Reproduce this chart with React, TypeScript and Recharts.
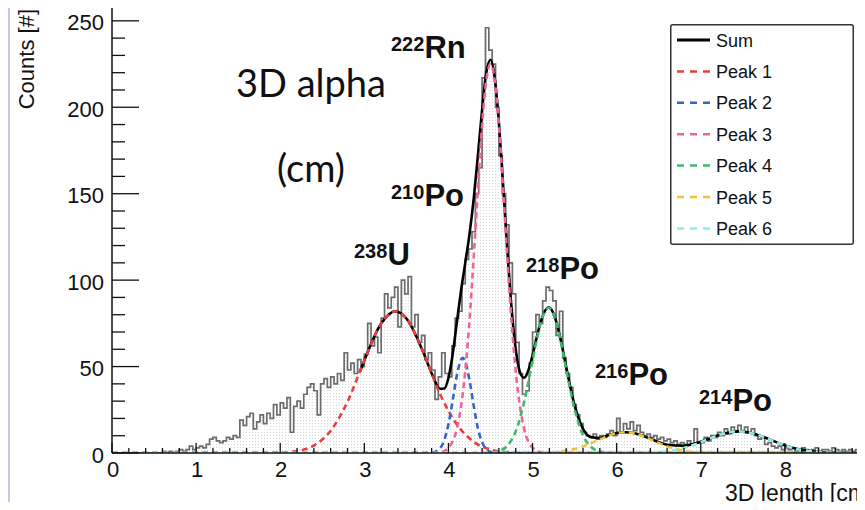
import React from "react";
import {
    ComposedChart,
    Area,
    Line,
    XAxis,
    YAxis,
    ReferenceLine,
    Legend,
} from "recharts";

// 3D track length histogram, 0.04 cm bins from 0 to 9 cm
const BIN_WIDTH = 0.04;
const HIST_COUNTS = [
    // 0.00 - 0.96
    0, 0, 0, 0, 0, 0, 0, 0, 0, 0, 0, 0, 0, 0, 0, 1, 0, 1, 0, 1, 2, 1, 2, 4, 2,
    // 1.00 - 1.96
    3, 4, 3, 5, 8, 9, 7, 6, 7, 9, 8, 10, 9, 19, 16, 21, 23, 14, 18, 22, 17, 23, 20, 28, 22,
    // 2.00 - 2.96
    29, 26, 32, 12, 27, 30, 26, 34, 38, 40, 36, 22, 40, 43, 38, 44, 40, 46, 42, 58, 48, 52, 46, 54, 50,
    // 3.00 - 3.96
    57, 75, 62, 67, 58, 78, 92, 84, 90, 96, 73, 100, 92, 102, 73, 80, 64, 68, 54, 58, 48, 31, 44, 58, 46,
    // 4.00 - 4.96
    44, 62, 78, 82, 98, 112, 118, 128, 150, 165, 217, 246, 233, 225, 200, 172, 150, 132, 110, 92, 64, 46, 34, 36, 52,
    // 5.00 - 5.96
    70, 80, 75, 88, 96, 94, 88, 68, 82, 55, 46, 38, 28, 22, 17, 12, 10, 9, 11, 8, 10, 9, 11, 13, 10,
    // 6.00 - 6.96
    20, 12, 17, 14, 18, 13, 16, 12, 10, 11, 9, 10, 8, 9, 7, 8, 6, 7, 5, 6, 5, 7, 5, 14, 6,
    // 7.00 - 7.96
    6, 9, 7, 10, 9, 12, 10, 14, 11, 15, 12, 16, 13, 15, 12, 14, 10, 8, 9, 5, 6, 4, 3, 4, 2,
    // 8.00 - 8.96
    3, 2, 3, 1, 2, 3, 2, 1, 2, 3, 1, 2, 2, 1, 3, 2, 1, 2, 1, 2, 1, 2, 1, 2, 1,
];

// fit components, [length (cm), counts]
const SUM_FIT: [number, number][] = [
    [2.95, 47.3], [3.0, 53.5], [3.2, 74.9], [3.37, 82], [3.5, 77.8], [3.7, 58.4], [3.8, 46.2],
    [3.9, 37.2], [3.95, 37.3], [4.0, 43.4], [4.05, 57], [4.1, 75.6], [4.15, 94], [4.2, 110],
    [4.25, 126.5], [4.3, 146.8], [4.35, 172], [4.4, 198.5], [4.45, 220], [4.5, 227.5],
    [4.55, 217], [4.6, 191], [4.65, 155], [4.7, 117.4], [4.75, 84], [4.8, 59.9], [4.85, 46.8],
    [4.9, 43.5], [4.95, 47.7], [5.0, 56.5], [5.05, 67], [5.1, 76.3], [5.19, 84.3], [5.25, 80.6],
    [5.3, 72.7], [5.35, 62], [5.4, 49.7], [5.5, 27.6], [5.6, 14], [5.7, 9.1], [5.8, 8.7],
    [5.9, 10.2], [6.0, 11.5], [6.1, 12], [6.2, 11.6], [6.4, 8.2], [6.6, 4.8], [6.8, 4.2],
    [7.0, 6.5], [7.2, 10.1], [7.45, 12.5], [7.6, 11.6], [7.8, 8.2], [8.0, 4.4], [8.2, 1.8],
    [8.4, 0.6], [8.6, 0.1], [9.0, 0],
];
const PEAK_1: [number, number][] = [
    [0, 0], [2.0, 0.2], [2.2, 1.1], [2.4, 4.3], [2.6, 12.9], [2.8, 29.7], [3.0, 53.5], [3.2, 74.9],
    [3.37, 82], [3.5, 77.8], [3.7, 58.4], [3.9, 34.1], [4.1, 16.5], [4.3, 6.5], [4.5, 2.0],
    [4.7, 0.5], [5.0, 0], [9.0, 0],
];
const PEAK_2: [number, number][] = [
    [0, 0], [3.7, 0], [3.8, 0.2], [3.9, 2.7], [4.0, 16.7], [4.05, 30.3], [4.1, 45], [4.17, 55],
    [4.25, 42.2], [4.3, 27.4], [4.35, 14.4], [4.4, 6.2], [4.5, 0.6], [4.6, 0], [9.0, 0],
];
const PEAK_3: [number, number][] = [
    [0, 0], [3.8, 0], [3.9, 0.4], [4.0, 3], [4.1, 14.1], [4.15, 27], [4.2, 47.4], [4.25, 76.3],
    [4.3, 112.9], [4.35, 152.5], [4.4, 189.3], [4.45, 215.5], [4.5, 225], [4.55, 215.5],
    [4.6, 189.3], [4.65, 152.5], [4.7, 112.9], [4.75, 76.3], [4.8, 47.4], [4.85, 27],
    [4.9, 14.1], [5.0, 3], [5.1, 0.4], [5.2, 0], [9.0, 0],
];
const PEAK_4: [number, number][] = [
    [0, 0], [4.5, 0], [4.6, 1.1], [4.7, 4.2], [4.8, 12.5], [4.9, 29.4], [5.0, 53.5], [5.05, 65.7],
    [5.1, 75.9], [5.19, 84], [5.25, 80.3], [5.3, 72.2], [5.35, 61], [5.4, 48.4], [5.5, 25.3],
    [5.6, 10.2], [5.7, 3.3], [5.8, 0.8], [5.9, 0.2], [6.0, 0], [9.0, 0],
];
const PEAK_5: [number, number][] = [
    [0, 0], [5.0, 0], [5.2, 0.3], [5.4, 1.3], [5.6, 3.8], [5.8, 7.9], [6.0, 11.5], [6.1, 12],
    [6.2, 11.5], [6.4, 7.9], [6.6, 3.8], [6.8, 1.3], [7.0, 0.3], [7.2, 0], [9.0, 0],
];
const PEAK_6: [number, number][] = [
    [0, 0], [6.2, 0], [6.4, 0.3], [6.6, 1.0], [6.8, 2.9], [7.0, 6.2], [7.2, 10.1], [7.45, 12.5],
    [7.6, 11.6], [7.8, 8.2], [8.0, 4.4], [8.2, 1.8], [8.4, 0.6], [8.6, 0.1], [8.8, 0], [9.0, 0],
];

const X_TICKS = [0, 1, 2, 3, 4, 5, 6, 7, 8, 9];
const Y_TICKS = [0, 50, 100, 150, 200, 250];
const Y_MAX = 258;

const FONT = '"Liberation Sans", Arial, Helvetica, sans-serif';

const PEAKS = [
    { name: "Peak 1", color: "#e8403e", points: PEAK_1 },
    { name: "Peak 2", color: "#3566c6", points: PEAK_2 },
    { name: "Peak 3", color: "#ee6596", points: PEAK_3 },
    { name: "Peak 4", color: "#3dbb6c", points: PEAK_4 },
    { name: "Peak 5", color: "#f2c233", points: PEAK_5 },
    { name: "Peak 6", color: "#92ecec", points: PEAK_6 },
];

const histData = HIST_COUNTS.map((count, i) => ({ x: +(i * BIN_WIDTH).toFixed(2), count }));
// closing edge for the last step
histData.push({ x: 9, count: HIST_COUNTS[HIST_COUNTS.length - 1] });

const toPoints = (pts: [number, number][]) => pts.map(([x, y]) => ({ x, y }));

// minor ticks: 0.2 cm on x, 10 counts on y
const xTickPositions = Array.from({ length: 46 }, (_, i) => +(i * 0.2).toFixed(1));
const yTickPositions = Array.from({ length: 26 }, (_, i) => i * 10);

const XTick = (props: any) => {
    const { x, y, payload } = props;
    const v = payload.value;
    const major = X_TICKS.some((t) => Math.abs(t - v) < 1e-6);
    return (
        <g>
            <line x1={x} x2={x} y1={y} y2={y - (major ? 10 : 5)} stroke="#111" strokeWidth={1.3} />
            {major && (
                <text x={x + 1} y={y + 24} textAnchor="middle" fontSize={22} fontFamily={FONT} fill="#111">
                    {v}
                </text>
            )}
        </g>
    );
};

const YTick = (props: any) => {
    const { x, y, payload } = props;
    const v = payload.value;
    const major = Y_TICKS.includes(v);
    return (
        <g>
            <line x1={x} x2={x + (major ? 27 : 13)} y1={y} y2={y} stroke="#111" strokeWidth={1.3} />
            {major && (
                <text x={x - 8} y={y + 9.5} textAnchor="end" fontSize={22} fontFamily={FONT} fill="#111">
                    {v}
                </text>
            )}
        </g>
    );
};

const LegendBox = () => {
    const rows = [{ name: "Sum", color: "#000", dashed: false }, ...PEAKS.map((p) => ({ name: p.name, color: p.color, dashed: true }))];
    return (
        <svg width={184} height={221} style={{ display: "block" }}>
            <rect x={0.75} y={0.75} width={182.5} height={219.5} fill="#fff" stroke="#333" strokeWidth={1.5} rx={2} />
            {rows.map((r, i) => {
                const cy = 16 + i * 31.4;
                return (
                    <g key={r.name}>
                        <line
                            x1={7}
                            x2={40}
                            y1={cy}
                            y2={cy}
                            stroke={r.color}
                            strokeWidth={r.dashed ? 2.5 : 2.8}
                            strokeDasharray={r.dashed ? "7 6" : undefined}
                        />
                        <text x={46} y={cy + 6.5} fontSize={18} fontFamily={FONT} fill="#111">
                            {r.name}
                        </text>
                    </g>
                );
            })}
        </svg>
    );
};

const IsotopeLabel = ({ x, y, mass, name }: { x: number; y: number; mass: string; name: string }) => (
    <text x={x} y={y} fontFamily={FONT} fontWeight="bold" fill="#111">
        <tspan fontSize={20} dy={-7}>{mass}</tspan>
        <tspan fontSize={31} dy={7}>{name}</tspan>
    </text>
);

export default function App() {
    return (
        <div style={{ position: "relative", width: 865, height: 510, margin: -8, overflow: "hidden", background: "#fff" }}>
            <div style={{ position: "absolute", left: 8, top: 0, width: 1.5, height: 510, background: "#c6c9ea" }} />
            <div style={{ position: "absolute", left: 0, top: 246, width: 3, height: 4, background: "#2f4fd0" }} />
            <ComposedChart
                width={880}
                height={510}
                data={histData}
                margin={{ top: 7, right: 11, left: 52, bottom: 27 }}
            >
                <defs>
                    <pattern id="stipple" width={3} height={3} patternUnits="userSpaceOnUse">
                        <rect width={1} height={1} fill="#d9d9d9" />
                    </pattern>
                </defs>
                <XAxis
                    dataKey="x"
                    type="number"
                    domain={[0, 9]}
                    ticks={xTickPositions}
                    interval={0}
                    allowDataOverflow
                    height={30}
                    tickSize={0}
                    tickMargin={0}
                    tickLine={false}
                    tick={<XTick />}
                    axisLine={{ stroke: "#111", strokeWidth: 1.5 }}
                />
                <YAxis
                    type="number"
                    domain={[0, Y_MAX]}
                    ticks={yTickPositions}
                    interval={0}
                    allowDataOverflow
                    width={60}
                    tickSize={0}
                    tickMargin={0}
                    tickLine={false}
                    tick={<YTick />}
                    axisLine={{ stroke: "#111", strokeWidth: 1.5 }}
                />
                <ReferenceLine y={Y_MAX} stroke="#111" strokeWidth={1.5} />

                <Area
                    type="stepAfter"
                    dataKey="count"
                    stroke="#6c6c6c"
                    strokeWidth={1.7}
                    fill="url(#stipple)"
                    fillOpacity={1}
                    dot={false}
                    activeDot={false}
                    isAnimationActive={false}
                />

                <Line
                    data={toPoints(SUM_FIT)}
                    dataKey="y"
                    name="Sum"
                    type="monotone"
                    stroke="#000"
                    strokeWidth={2.6}
                    dot={false}
                    activeDot={false}
                    isAnimationActive={false}
                />
                {PEAKS.map((p) => (
                    <Line
                        key={p.name}
                        data={toPoints(p.points)}
                        dataKey="y"
                        name={p.name}
                        type="monotone"
                        stroke={p.color}
                        strokeWidth={2.6}
                        strokeDasharray="6 4"
                        dot={false}
                        activeDot={false}
                        isAnimationActive={false}
                    />
                ))}

                <Legend
                    layout="vertical"
                    verticalAlign="middle"
                    align="center"
                    wrapperStyle={{ position: "absolute", left: 670, top: 24, width: 184, height: 221 }}
                    content={() => <LegendBox />}
                />

                {/* axis titles */}
                <text
                    x={34}
                    y={9}
                    transform="rotate(-90, 34, 9)"
                    textAnchor="end"
                    fontSize={22}
                    fontFamily={FONT}
                    fill="#111"
                >
                    Counts [#]
                </text>
                <text x={725} y={501} fontSize={23} fontFamily={FONT} fill="#111">
                    3D length [cm]
                </text>

                <text x={311} y={97} textAnchor="middle" fontSize={38} fontFamily="Lato, sans-serif" fill="#111">
                    3D alpha
                </text>
                <text x={311} y={182} textAnchor="middle" fontSize={38} fontFamily="Lato, sans-serif" fill="#111">
                    (cm)
                </text>

                <IsotopeLabel x={391} y={58} mass="222" name="Rn" />
                <IsotopeLabel x={391} y={206} mass="210" name="Po" />
                <IsotopeLabel x={354} y={265} mass="238" name="U" />
                <IsotopeLabel x={526} y={279} mass="218" name="Po" />
                <IsotopeLabel x={595} y={385} mass="216" name="Po" />
                <IsotopeLabel x={699} y={411} mass="214" name="Po" />
            </ComposedChart>
        </div>
    );
}
